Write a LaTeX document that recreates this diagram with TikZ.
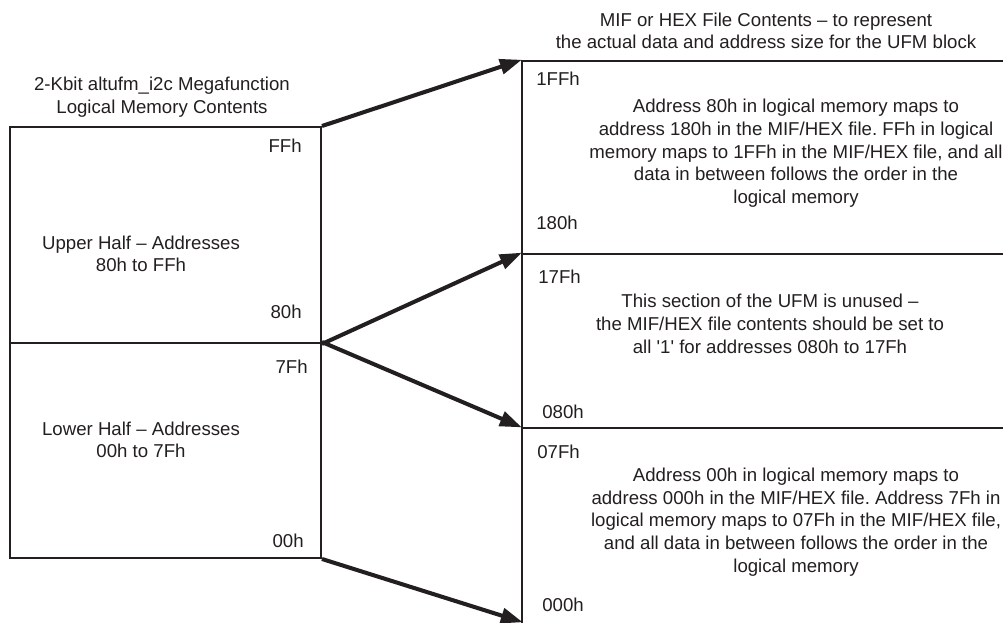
\documentclass[tikz,border=0pt]{standalone}
\usepackage{fontspec}
\setmainfont{Liberation Sans}
\usetikzlibrary{arrows.meta}
\definecolor{ink}{HTML}{231F20}
\frenchspacing

\begin{document}
\begin{tikzpicture}[ink,every node/.style={align=center,font=\fontsize{10.6}{12.9}\selectfont},
  blk/.style={draw,line width=1.1pt,minimum width=6.22cm,inner sep=0pt},
  sec/.style={draw,line width=1.1pt,minimum width=9.76cm,inner sep=0pt},
  addr/.style={inner sep=0pt},
  arr/.style={line width=2.3pt,-{Triangle[length=0.44cm,width=0.3cm]},shorten >=-0.5pt}]
\clip (0,0) rectangle (20.06,-12.44);
% logical memory (left)
\node[blk,minimum height=4.32cm] (upper) at (3.31,-4.70) {};
\node[blk,minimum height=4.30cm] (lower) at (3.31,-9.01) {};
\node (lt) at (3.24,-1.94) {2-Kbit altufm\_i2c Megafunction\\Logical Memory Contents};
\node (ut) at (2.82,-5.08) {Upper Half -- Addresses\\80h to FFh};
\node (lw) at (2.82,-8.80) {Lower Half -- Addresses\\00h to 7Fh};
\node[addr,anchor=east] (ffh) at (6.04,-2.92) {FFh};
\node[addr,anchor=east] (h80) at (6.04,-6.24) {80h};
\node[addr,anchor=east] (h7f) at (6.16,-7.34) {7Fh};
\node[addr,anchor=east] (h00) at (6.08,-10.82) {00h};
% MIF/HEX file (right)
\node[sec,minimum height=3.86cm] (s1) at (15.32,-3.15) {};
\node[sec,minimum height=3.48cm] (s2) at (15.32,-6.82) {};
\node[sec,minimum height=4.24cm] (s3) at (15.32,-10.68) {};
\node (rt) at (15.32,-0.62) {MIF or HEX File Contents -- to represent\\the actual data and address size for the UFM block};
\node[addr,anchor=west] (a1ff) at (10.72,-1.58) {1FFh};
\node[addr,anchor=west] (a180) at (10.72,-4.46) {180h};
\node[addr,anchor=west] (a17f) at (10.76,-5.54) {17Fh};
\node[addr,anchor=west] (a080) at (10.84,-8.24) {080h};
\node[addr,anchor=west] (a07f) at (10.74,-9.04) {07Fh};
\node[addr,anchor=west] (a000) at (10.84,-12.10) {000h};
\node (p1) at (15.92,-3.07) {Address 80h in logical memory maps to\\address 180h in the MIF/HEX file. FFh in logical\\memory maps to 1FFh in the MIF/HEX file, and all\\data in between follows the order in the\\logical memory};
\node (p2) at (15.40,-6.48) {This section of the UFM is unused --\\the MIF/HEX file contents should be set to\\all \textquotesingle1\textquotesingle\ for addresses 080h to 17Fh};
\node (p3) at (15.92,-10.44) {Address 00h in logical memory maps to\\address 000h in the MIF/HEX file. Address 7Fh in\\logical memory maps to 07Fh in the MIF/HEX file,\\and all data in between follows the order in the\\logical memory};
% mapping arrows
\draw[arr] (upper.north east) -- (s1.north west);
\draw[arr] (upper.south east) -- (s2.north west);
\draw[arr] (lower.north east) -- (s3.north west);
\draw[arr] (lower.south east) -- (20.06-9.62,-12.44);
\end{tikzpicture}
\end{document}
